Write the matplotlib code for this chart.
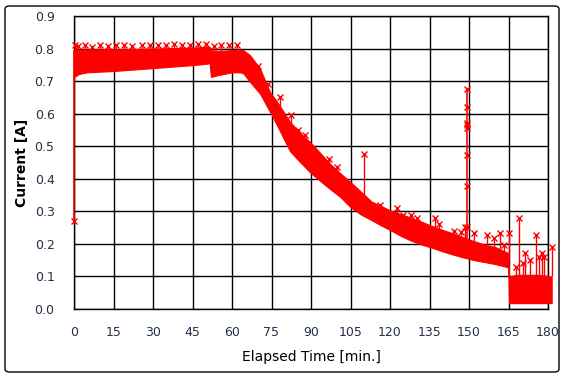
import numpy as np
import matplotlib.pyplot as plt
from matplotlib.patches import FancyBboxPatch


# lower / upper edge of the dense current trace [min], [A]
band_time = [0, 2, 5, 10, 15, 20, 25, 30, 35, 40, 45, 50, 51.5, 52, 55,
             60, 63, 64.3, 66.8, 70.6, 74.4, 78, 82, 86, 90, 94, 97, 101, 105, 109,
             113, 117, 120, 124, 128, 132, 136, 140, 144, 148, 152, 156, 160, 164.9, 165.2,
             168, 172, 176, 181.4]
band_high = [0.795, 0.797, 0.797, 0.798, 0.798, 0.798, 0.799, 0.800, 0.801, 0.802,
             0.803, 0.805, 0.805, 0.795, 0.793, 0.795, 0.797, 0.795, 0.780, 0.739,
             0.667, 0.626, 0.575, 0.540, 0.510, 0.475, 0.448, 0.418, 0.390, 0.360,
             0.330, 0.315, 0.303, 0.292, 0.280, 0.268, 0.255, 0.243, 0.232, 0.220,
             0.208, 0.198, 0.190, 0.172, 0.100, 0.105, 0.105, 0.105, 0.100]
band_low = [0.713, 0.722, 0.727, 0.729, 0.731, 0.734, 0.737, 0.740, 0.743, 0.746,
            0.749, 0.753, 0.755, 0.713, 0.719, 0.727, 0.727, 0.724, 0.698, 0.662,
            0.606, 0.550, 0.485, 0.450, 0.417, 0.390, 0.370, 0.345, 0.313, 0.290,
            0.273, 0.255, 0.243, 0.225, 0.210, 0.198, 0.188, 0.177, 0.167, 0.158,
            0.150, 0.144, 0.138, 0.128, 0.018, 0.018, 0.018, 0.018, 0.018]

# single readings sticking out of the band
peak_time = [0.3, 1.5, 4, 7, 10, 13, 16, 19, 22, 26, 29, 32, 35, 38, 41, 44, 47, 50,
             53, 56, 59, 62,
             70, 73.5, 78.2, 82.4, 85.2, 87.7, 97, 99.8, 110.2, 116.2, 122.7, 125,
             128, 130.4, 137.1, 138.7, 144.3, 147, 148.6, 152, 156.7, 159.6, 161.9,
             163.4, 165, 167.9, 169.1, 170.5, 171.3, 173, 175.3, 176.5, 177.6, 178.5,
             181.4]
peak_current = [0.812, 0.808, 0.810, 0.806, 0.810, 0.808, 0.812, 0.810, 0.808, 0.812,
                0.810, 0.812, 0.810, 0.814, 0.812, 0.812, 0.815, 0.814, 0.808, 0.810,
                0.812, 0.810,
                0.746, 0.690, 0.652, 0.596, 0.550, 0.534, 0.460, 0.437, 0.477, 0.319,
                0.309, 0.290, 0.290, 0.280, 0.279, 0.262, 0.241, 0.238, 0.253, 0.232,
                0.226, 0.218, 0.232, 0.198, 0.232, 0.130, 0.279, 0.140, 0.171, 0.150,
                0.227, 0.160, 0.171, 0.160, 0.191]

# readings along the tall spike near 150 min
spike_time = 149.4
spike_current = [0.675, 0.619, 0.572, 0.565, 0.556, 0.473, 0.378, 0.253]

# first reading of the run
first_time = 0
first_current = 0.27

x_ticks = np.arange(0, 181, 15)
y_ticks = np.arange(0, 0.91, 0.1)

RED = '#ff0000'
LABEL_COLOR = '#23304a'

fig = plt.figure(figsize=(5.67, 3.78), dpi=100)
ax = fig.add_axes([74 / 567, 1 - 309 / 378, 474 / 567, 293 / 378])

# dense trace
ax.fill_between(band_time, band_low, band_high, color=RED, linewidth=0.8,
                edgecolor=RED, clip_on=False, zorder=3)

# stems + markers above the band
stem_base = np.interp(peak_time, band_time, band_high)
ax.vlines(peak_time, stem_base, peak_current, color=RED, linewidth=1, zorder=3, clip_on=False)
ax.plot(peak_time, peak_current, 'x', color=RED, markersize=4, mew=1, zorder=4, clip_on=False)

spike_base = np.interp(spike_time, band_time, band_high)
ax.vlines(spike_time, spike_base, max(spike_current), color=RED, linewidth=1.2, zorder=3)
ax.plot([spike_time] * len(spike_current), spike_current, 'x', color=RED,
        markersize=4, mew=1, zorder=4)

ax.vlines(first_time, first_current, band_high[0], color=RED, linewidth=1.2, zorder=3,
          clip_on=False)
ax.plot(first_time, first_current, 'x', color=RED, markersize=4, mew=1, zorder=4,
        clip_on=False)

ax.set_xlim(0, 180)
ax.set_ylim(0, 0.9)
ax.set_xticks(x_ticks)
ax.set_yticks(y_ticks)
ax.set_yticklabels(['%.1f' % v for v in y_ticks])
ax.tick_params(length=0, labelsize=9, labelcolor=LABEL_COLOR)
ax.tick_params(axis='x', pad=12)
ax.tick_params(axis='y', pad=14)

ax.set_axisbelow(True)
ax.grid(color='black', linewidth=1.0)
for spine in ax.spines.values():
    spine.set_color('black')
    spine.set_linewidth(1.0)

ax.set_xlabel('Elapsed Time [min.]', fontsize=10, color='black', labelpad=8)
ax.set_ylabel('Current [A]', fontsize=10, fontweight='bold', color='black', labelpad=4)

border = FancyBboxPatch((5 / 567, 6 / 378), 554 / 567, 366 / 378,
                        boxstyle='round,pad=0,rounding_size=0.008',
                        transform=fig.transFigure, fill=False,
                        edgecolor='black', linewidth=1.0)
fig.patches.append(border)

fig.savefig('out.png', dpi=100)
